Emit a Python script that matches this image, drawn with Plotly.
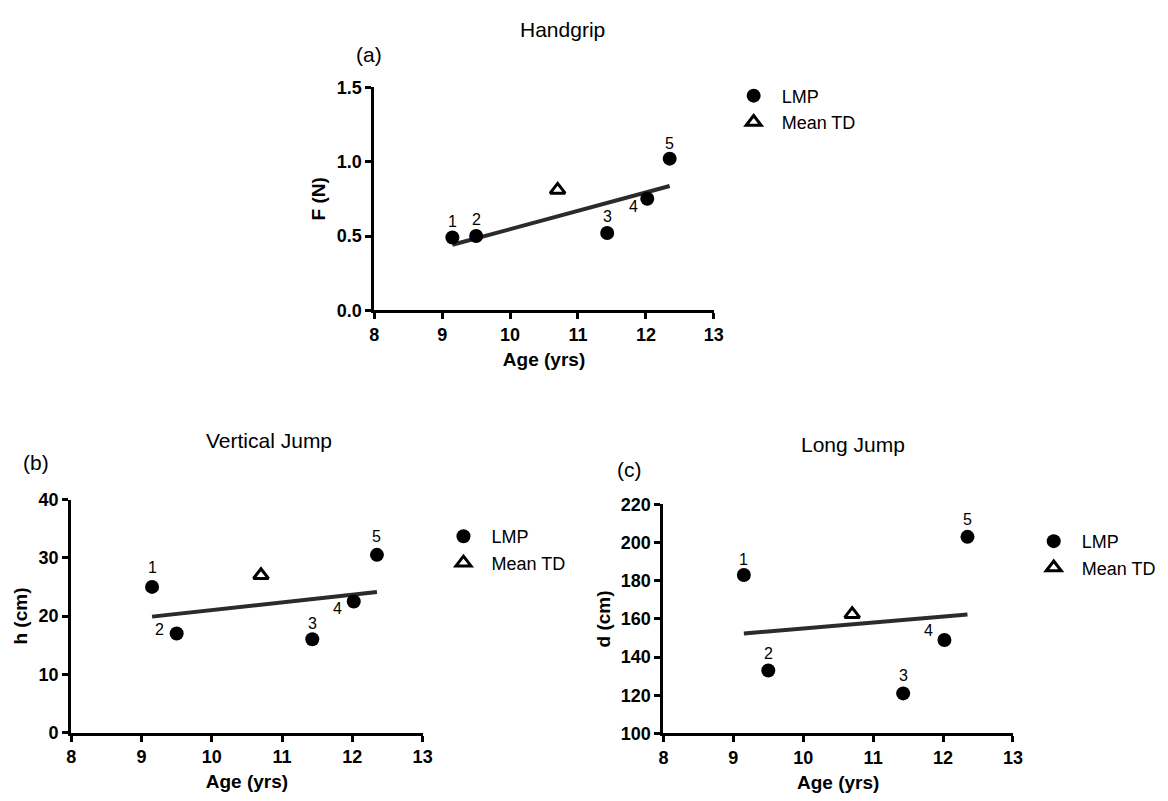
import numpy as np
import plotly.graph_objects as go

# ---------------- data ----------------
ages = [9.15, 9.50, 11.43, 12.02, 12.35]
point_labels = ["1", "2", "3", "4", "5"]
td_age = [10.70]

handgrip_lmp = [0.49, 0.50, 0.52, 0.75, 1.02]
handgrip_td = [0.81]

vjump_lmp = [25.0, 17.0, 16.0, 22.5, 30.5]
vjump_td = [27.0]

ljump_lmp = [183, 133, 121, 149, 203]
ljump_td = [162.5]

x_ticks = [8, 9, 10, 11, 12, 13]
hg_ticks = [0.0, 0.5, 1.0, 1.5]
vj_ticks = [0, 10, 20, 30, 40]
lj_ticks = [100, 120, 140, 160, 180, 200, 220]

panel_titles = ["Handgrip", "Vertical Jump", "Long Jump"]
panel_letters = ["(a)", "(b)", "(c)"]
y_titles = ["F (N)", "h (cm)", "d (cm)"]
x_title = "Age (yrs)"

# ---------------- styling ----------------
OFF = 8            # default page body margin
W, H = 1168 - OFF, 801 - OFF
FONT = "Arial, Liberation Sans, Helvetica, sans-serif"

def px2x(p):
    return (p - OFF) / W

def px2y(p):
    return 1 - (p - OFF) / H

# plot areas in page pixels (left, right, top, bottom)
areas = [(374, 718, 79, 308), (67, 423, 502, 741), (667, 1021, 507, 742)]
yranges = [[0, 1.5], [0, 40], [100, 220]]
yticks = [hg_ticks, vj_ticks, lj_ticks]
ytickfmt = [".1f", "d", "d"]
lmp_sets = [handgrip_lmp, vjump_lmp, ljump_lmp]
td_sets = [handgrip_td, vjump_td, ljump_td]
title_pos = [(565, 20), (267, 441), (859, 446)]
letter_pos = [(369, 45), (31, 464), (633, 471)]
legend_pos = [(754, 94), (460, 546), (1058, 551)]
# label offsets (dx, dy) in px, dy positive = up
label_offsets = [
    [(0, 16), (0, 17), (0, 17), (-14, -8), (0, 15)],
    [(0, 19), (-17, 4), (0, 16), (-16, -7), (0, 18)],
    [(0, 16), (0, 17), (0, 18), (-16, 9), (0, 17)],
]

fig = go.Figure()
annotations = []
layout_axes = {}
legend_names = ["legend", "legend2", "legend3"]

for i in range(3):
    xa = "x" if i == 0 else f"x{i+1}"
    ya = "y" if i == 0 else f"y{i+1}"
    l, r, t, b = areas[i]
    lmp = lmp_sets[i]
    td = td_sets[i]

    # linear regression line of the LMP points
    slope, icpt = np.polyfit(ages, lmp, 1)
    fx = [min(ages), max(ages)]
    fy = [slope * v + icpt for v in fx]
    fig.add_trace(go.Scatter(x=fx, y=fy, mode="lines", xaxis=xa, yaxis=ya,
                             line=dict(color="#2b2b2b", width=4),
                             showlegend=False, hoverinfo="skip"))
    fig.add_trace(go.Scatter(x=ages, y=lmp, mode="markers", name="LMP",
                             xaxis=xa, yaxis=ya, legend=legend_names[i],
                             marker=dict(symbol="circle", size=14, color="black")))
    fig.add_trace(go.Scatter(x=td_age, y=td, mode="markers", name="Mean TD",
                             xaxis=xa, yaxis=ya, legend=legend_names[i],
                             marker=dict(symbol="triangle-up-open", size=13, color="black",
                                         line=dict(width=3, color="black"))))

    for j, lab in enumerate(point_labels):
        dx, dy = label_offsets[i][j]
        annotations.append(dict(x=ages[j], y=lmp[j], xref=xa, yref=ya, text=lab,
                                showarrow=False, xshift=dx, yshift=dy,
                                font=dict(family=FONT, size=16, color="black")))

    axis_common = dict(showline=True, linewidth=3, linecolor="black", ticks="outside",
                       ticklen=6, tickwidth=3, tickcolor="black", showgrid=False,
                       zeroline=False,
                       tickfont=dict(family=FONT, size=18, color="black", weight="bold"))
    xkey = "xaxis" if i == 0 else f"xaxis{i+1}"
    ykey = "yaxis" if i == 0 else f"yaxis{i+1}"
    layout_axes[xkey] = dict(domain=[px2x(l), px2x(r)], range=[8, 13], tickvals=x_ticks,
                             anchor=ya, ticklabelstandoff=0,
                             title=dict(text=x_title, standoff=9,
                                        font=dict(family=FONT, size=19, color="black", weight="bold")),
                             **axis_common)
    layout_axes[ykey] = dict(domain=[px2y(b), px2y(t)], range=yranges[i], tickvals=yticks[i],
                             tickformat=ytickfmt[i], anchor=xa, ticklabelstandoff=0,
                             title=dict(text=y_titles[i], standoff=6,
                                        font=dict(family=FONT, size=19, color="black", weight="bold")),
                             **axis_common)

    tx, ty = title_pos[i]
    annotations.append(dict(x=px2x(tx), y=px2y(ty), xref="paper", yref="paper",
                            text=panel_titles[i], showarrow=False, xanchor="center", yanchor="middle",
                            font=dict(family=FONT, size=21, color="black")))
    lx, ly = letter_pos[i]
    annotations.append(dict(x=px2x(lx), y=px2y(ly), xref="paper", yref="paper",
                            text=panel_letters[i], showarrow=False, xanchor="center", yanchor="middle",
                            font=dict(family=FONT, size=21, color="black")))

legends = {}
for i, name in enumerate(legend_names):
    gx, gy = legend_pos[i]
    legends[name] = dict(x=px2x(gx - 24), y=px2y(gy - 25), xanchor="left", yanchor="top",
                         bgcolor="rgba(0,0,0,0)", borderwidth=0,
                         font=dict(family=FONT, size=18, color="black"),
                         itemwidth=46, tracegroupgap=0)

fig.update_layout(width=W, height=H, margin=dict(l=0, r=0, t=0, b=0),
                  paper_bgcolor="white", plot_bgcolor="white",
                  annotations=annotations, **layout_axes, **legends)

fig.write_html("out.html", config={"displayModeBar": False})
